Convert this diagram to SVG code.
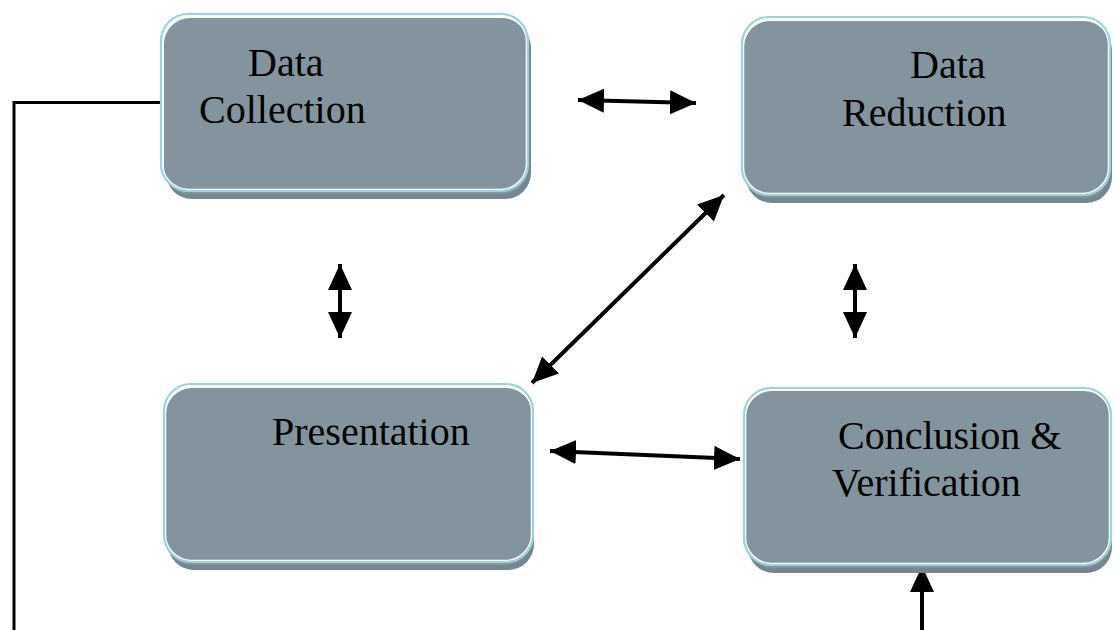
<svg xmlns="http://www.w3.org/2000/svg" width="1117" height="630" viewBox="0 0 1117 630">
<style>
.shadow{fill:#76868f}
.fill{fill:#84949e}
.outline{fill:none;stroke:#9dd2df;stroke-width:2.2}
.inner{fill:none;stroke:#ffffff;stroke-width:1.5}
.label{font-family:"Liberation Serif","Times New Roman",serif;font-size:40px;fill:#000}
.conn{stroke:#000;stroke-width:4;fill:none}
.plain{stroke:#000;stroke-width:3;fill:none}
</style>
<defs>
<marker id="ah" markerUnits="userSpaceOnUse" markerWidth="28" markerHeight="26" refX="26" refY="12" orient="auto-start-reverse" viewBox="0 0 28 26">
<path d="M0,0 L26,12 L0,24 z" fill="#000"/>
</marker>
</defs>
<rect width="1117" height="630" fill="#fff"/>

<g id="connectors">
<line class="conn" x1="578" y1="100" x2="696" y2="103" marker-start="url(#ah)" marker-end="url(#ah)"/>
<line class="conn" x1="340" y1="264" x2="340" y2="338" marker-start="url(#ah)" marker-end="url(#ah)"/>
<line class="conn" x1="855" y1="264" x2="855" y2="338" marker-start="url(#ah)" marker-end="url(#ah)"/>
<line class="conn" x1="724" y1="195" x2="532" y2="383" marker-start="url(#ah)" marker-end="url(#ah)"/>
<line class="conn" x1="550" y1="451" x2="740" y2="459" marker-start="url(#ah)" marker-end="url(#ah)"/>
<line class="conn" x1="922" y1="630" x2="922" y2="566" marker-end="url(#ah)"/>
<polyline class="plain" points="163,102.5 14,102.5 14,630"/>
</g>

<g id="data-collection">
<rect class="shadow" x="166" y="22" width="365" height="177" rx="26"/>
<rect class="fill" x="164" y="18" width="364" height="176" rx="26"/>
<rect class="inner" x="162.5" y="15.5" width="364" height="174" rx="26"/>
<rect class="outline" x="161" y="14" width="367" height="177" rx="27"/>
<text class="label" x="248" y="76">Data</text>
<text class="label" x="199" y="123">Collection</text>
</g>

<g id="data-reduction">
<rect class="shadow" x="746" y="25" width="366" height="178" rx="26"/>
<rect class="fill" x="744" y="21" width="366" height="177" rx="26"/>
<rect class="inner" x="743.5" y="18.5" width="365" height="175" rx="26"/>
<rect class="outline" x="742" y="17" width="368" height="178" rx="27"/>
<text class="label" x="910" y="78">Data</text>
<text class="label" x="842" y="126">Reduction</text>
</g>

<g id="presentation">
<rect class="shadow" x="168" y="391" width="366" height="179" rx="26"/>
<rect class="fill" x="166" y="388" width="366" height="177" rx="26"/>
<rect class="inner" x="165.5" y="385.5" width="366" height="175" rx="26"/>
<rect class="outline" x="164" y="384" width="369" height="178" rx="27"/>
<text class="label" x="272" y="445">Presentation</text>
</g>

<g id="conclusion-verification">
<rect class="shadow" x="748" y="394" width="364" height="179" rx="26"/>
<rect class="fill" x="746" y="391" width="364" height="177" rx="26"/>
<rect class="inner" x="745.5" y="389.5" width="364" height="174" rx="26"/>
<rect class="outline" x="744" y="388" width="367" height="177" rx="27"/>
<text class="label" x="838" y="449">Conclusion &amp;</text>
<text class="label" x="832" y="496">Verification</text>
</g>
</svg>
